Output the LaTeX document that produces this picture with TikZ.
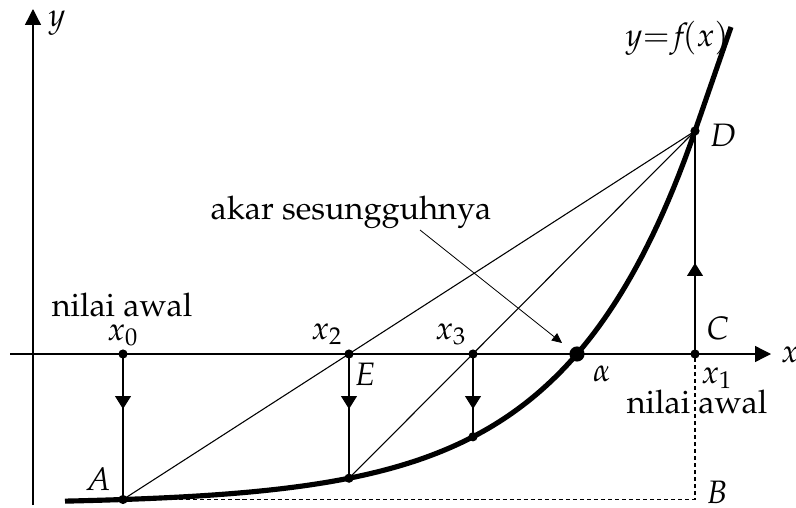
\documentclass[tikz,border=0pt]{standalone}
\usepackage[T1]{fontenc}
\usepackage{mathpazo}
\usepackage{tikz}
\usetikzlibrary{calc,arrows.meta}
\tikzset{
  ax/.style={-{Triangle[length=5.9pt,width=5.9pt]},line width=0.5pt},
  gr/.style={line width=1.9pt},
  thn/.style={line width=0.4pt},
  dwn/.style={-{Triangle[length=4.8pt,width=5.9pt]},line width=0.4pt},
  ptr/.style={-{Triangle[length=3.7pt,width=3.4pt]},line width=0.3pt},
  dsh/.style={dash pattern=on 1.5pt off 1.1pt,line width=0.4pt},
  lbl/.style={anchor=base,font=\large,inner sep=0pt}
}
\begin{document}
\begin{tikzpicture}[x=0.013cm,y=-0.013cm,
  declare function={fy(\t)=354-150*(exp(0.00772*(\t-577))-1);}]
\useasboundingbox (0,0) rectangle (796,508);
% axes
\coordinate (yb) at (33,505);
\coordinate (yt) at (33,9);
\coordinate (xl) at (10,354);
\coordinate (xr) at (771,354);
\draw[ax] (yb) -- (yt);
\draw[ax] (xl) -- (xr);
\node[lbl] at (57,27) {$y$};
\node[lbl] at (790,362) {$x$};
% points
\coordinate (x0) at (123,354);
\coordinate (x2) at (349,354);
\coordinate (x3) at (473,354);
\coordinate (al) at (577,354);
\coordinate (x1) at (695,354);
\coordinate (pA) at (123,{fy(123)});
\coordinate (q2) at (349,{fy(349)});
\coordinate (q3) at (473,{fy(473)});
\coordinate (pD) at (695,{fy(695)});
\coordinate (pB) at (695,{fy(123)});
\coordinate (top) at (731,27);
% curve
\draw[gr,domain=65:695,samples=120] plot(\x,{fy(\x)}) -- (top);
% secants
\draw[thn] (pA) -- (pD);
\draw[thn] (q2) -- (pD);
% verticals
\coordinate (m0) at (123,409);
\coordinate (m2) at (349,409);
\coordinate (m3) at (473,409);
\coordinate (m1) at (695,263);
\draw[thn] (x0) -- (pA);
\draw[dwn] (x0) -- (m0);
\draw[thn] (x2) -- (q2);
\draw[dwn] (x2) -- (m2);
\draw[thn] (x3) -- (q3);
\draw[dwn] (x3) -- (m3);
\draw[thn] (x1) -- (pD);
\draw[dwn] (x1) -- (m1);
\draw[dsh] (pA) -- (pB) -- (x1);
% dots
\foreach \p in {x0,x2,x3,x1,pA,q2,q3,pD}
  \fill (\p) circle (1.7pt);
\fill (al) circle (2.8pt);
% labels
\node[lbl] at (122,316) {nilai awal};
\node[lbl] at (697,413) {nilai awal};
\node[lbl] at (123,340) {$x_0$};
\node[lbl] at (327,339) {$x_2$};
\node[lbl] at (451,339) {$x_3$};
\node[lbl] at (717,383) {$x_1$};
\node[lbl] at (602,381) {$\alpha$};
\node[lbl] at (365,385) {$E$};
\node[lbl] at (718,339) {$C$};
\node[lbl] at (717,503) {$B$};
\node[lbl] at (98,490) {$A$};
\node[lbl] at (723,147) {$D$};
\node[lbl] at (677,47) {$y{=}f\!(x)$};
\node[lbl] (akar) at (351,220) {akar sesungguhnya};
\coordinate (ak) at (420,230);
\coordinate (at) at (562,343);
\draw[ptr] (ak) -- (at);
\end{tikzpicture}
\end{document}
